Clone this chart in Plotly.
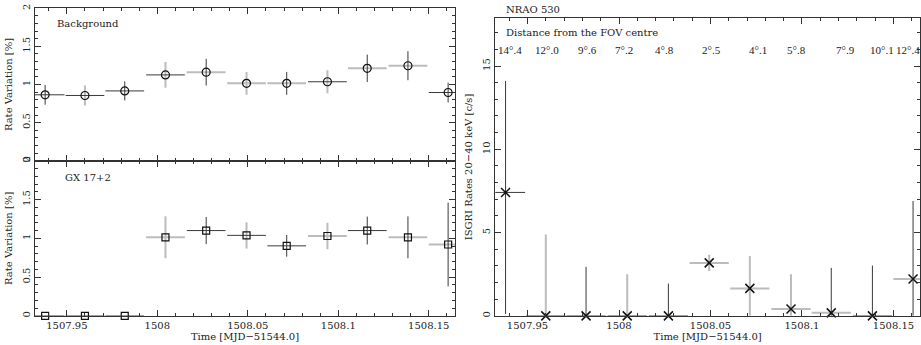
import plotly.graph_objects as go

# ---------------- data ----------------
TIME = [1507.938, 1507.960, 1507.982, 1508.0045, 1508.027, 1508.0493,
        1508.0715, 1508.094, 1508.116, 1508.1385, 1508.1607]
BIN_HALF = [0.0107] * 11

BKG = [0.865, 0.856, 0.916, 1.126, 1.161, 1.015, 1.015, 1.036, 1.212, 1.246, 0.895]
BKG_ERR = [0.13, 0.13, 0.125, 0.17, 0.175, 0.15, 0.15, 0.15, 0.18, 0.19, 0.13]

GX = [0.0, 0.0, 0.0, 1.013, 1.10, 1.038, 0.903, 1.03, 1.10, 1.013, 0.92]
GX_ERR = [0.0, 0.0, 0.0, 0.27, 0.175, 0.17, 0.14, 0.17, 0.18, 0.27, 0.54]

NRAO = [7.41, 0.0, 0.0, 0.0, 0.0, 3.18, 1.65, 0.41, 0.18, 0.0, 2.21]
NRAO_ERR_PLUS = [6.7, 4.88, 2.94, 2.5, 1.94, 0.49, 1.95, 2.09, 2.70, 3.02, 4.69]
NRAO_ERR_MINUS = [7.3, 0.0, 0.0, 0.0, 0.0, 0.49, 1.65, 0.41, 0.18, 0.0, 2.21]

DIST_LABELS = ["14°.4", "12°.0", "9°.6", "7°.2", "4°.8", "2°.5",
               "4°.1", "5°.8", "7°.9", "10°.1", "12°.4"]
DIST_X = [1507.9405, 1507.9607, 1507.9826, 1508.0027, 1508.0247, 1508.0504,
          1508.0760, 1508.0970, 1508.1236, 1508.1439, 1508.1603]

X_TICKS = [1507.95, 1508.0, 1508.05, 1508.1, 1508.15]
X_TICK_TEXT = ["1507.95", "1508", "1508.05", "1508.1", "1508.15"]

# rendering style flags (1 = dark thin line, 0 = light thick line)
BKG_V_DARK = [1, 0, 1, 0, 1, 0, 1, 0, 1, 1, 1]
BKG_H_DARK = [1, 1, 1, 1, 0, 0, 0, 1, 0, 0, 1]
GX_V_DARK = [1, 1, 1, 0, 1, 0, 1, 0, 1, 1, 1]
GX_H_DARK = [1, 1, 1, 0, 1, 1, 1, 0, 1, 0, 0]
NR_V_DARK = [1, 0, 1, 0, 1, 0, 0, 0, 1, 1, 1]
NR_H_DARK = [1, 1, 1, 1, 1, 0, 0, 0, 0, 1, 0]

FONT = "DejaVu Serif"
LABEL_FONT = "Liberation Serif"
DARK = "#3a3a3a"
LIGHT = "#bcbcbc"

fig = go.Figure()


def add_bars(xa, ya, yaxis, x, y, xerr, yplus, yminus, vflags, hflags):
    for dark in (0, 1):
        col = DARK if dark else LIGHT
        th = 1 if dark else 2
        iv = [i for i in range(len(x)) if vflags[i] == dark]
        if iv:
            fig.add_trace(go.Scatter(
                x=[x[i] for i in iv], y=[y[i] for i in iv], mode="markers",
                marker=dict(size=1, color="rgba(0,0,0,0)"),
                error_y=dict(type="data", symmetric=False,
                             array=[yplus[i] for i in iv],
                             arrayminus=[yminus[i] for i in iv],
                             color=col, thickness=th, width=0),
                xaxis=xa, yaxis=yaxis, showlegend=False, hoverinfo="skip"))
        ih = [i for i in range(len(x)) if hflags[i] == dark]
        if ih:
            fig.add_trace(go.Scatter(
                x=[x[i] for i in ih], y=[y[i] for i in ih], mode="markers",
                marker=dict(size=1, color="rgba(0,0,0,0)"),
                error_x=dict(type="data", array=[xerr[i] for i in ih],
                             color=col, thickness=th, width=0),
                xaxis=xa, yaxis=yaxis, showlegend=False, hoverinfo="skip"))


# background (top-left)
add_bars("x", "y", "y", TIME, BKG, BIN_HALF, BKG_ERR, BKG_ERR, BKG_V_DARK, BKG_H_DARK)
fig.add_trace(go.Scatter(x=TIME, y=BKG, mode="markers",
                         marker=dict(symbol="circle-open", size=8, color="#111",
                                     line=dict(width=1.2)),
                         xaxis="x", yaxis="y", showlegend=False))
# GX 17+2 (bottom-left)
add_bars("x2", "y2", "y2", TIME, GX, BIN_HALF, GX_ERR, GX_ERR, GX_V_DARK, GX_H_DARK)
fig.add_trace(go.Scatter(x=TIME, y=GX, mode="markers",
                         marker=dict(symbol="square-open", size=7, color="#111",
                                     line=dict(width=1.2)),
                         xaxis="x2", yaxis="y2", showlegend=False, cliponaxis=False))
# NRAO 530 (right)
add_bars("x3", "y3", "y3", TIME, NRAO, BIN_HALF, NRAO_ERR_PLUS, NRAO_ERR_MINUS,
         NR_V_DARK, NR_H_DARK)
fig.add_trace(go.Scatter(x=TIME, y=NRAO, mode="markers",
                         marker=dict(symbol="x-thin-open", size=9, color="#111",
                                     line=dict(width=1.5, color="#111")),
                         xaxis="x3", yaxis="y3", showlegend=False, cliponaxis=False))

XR = [1507.9324, 1508.1645]
W, H = 921, 345

axis_common = dict(showline=True, linecolor="#333", linewidth=1, mirror="allticks",
                   ticks="inside", ticklen=6, tickcolor="#333", tickwidth=1,
                   showgrid=False, zeroline=False,
                   tickfont=dict(family=FONT, size=10, color="#222"))

xminor = dict(ticks="inside", dtick=0.01, ticklen=3, tickcolor="#333", showgrid=False)

fig.update_layout(
    width=W, height=H, margin=dict(l=0, r=0, t=0, b=0),
    paper_bgcolor="white", plot_bgcolor="white",
    font=dict(family=FONT, size=10, color="#222"),
    xaxis=dict(domain=[35 / W, 455 / W], range=XR, anchor="y",
               tickvals=X_TICKS, showticklabels=False, minor=xminor, **axis_common),
    yaxis=dict(domain=[1 - 159 / H, 1 - 3.3 / H], range=[0, 2], anchor="x",
               tickvals=[0, 0.5, 1, 1.5, 2], ticktext=["0", "0.5", "1", "1.5", "2"],
               tickangle=-90, minor=dict(ticks="inside", dtick=0.1, ticklen=3,
                                        tickcolor="#333"),
               title=dict(text="Rate Variation [%]", standoff=6,
                          font=dict(family=FONT, size=10)),
               **axis_common),
    xaxis2=dict(domain=[35 / W, 455 / W], range=XR, anchor="y2",
                tickvals=X_TICKS, ticktext=X_TICK_TEXT, minor=xminor,
                title=dict(text="Time [MJD−51544.0]", standoff=2,
                           font=dict(family=FONT, size=10)),
                **axis_common),
    yaxis2=dict(domain=[1 - 317.3 / H, 1 - 159 / H], range=[0, 2], anchor="x2",
                tickvals=[0, 0.5, 1, 1.5, 2], ticktext=["0", "0.5", "1", "1.5", "2"],
                tickangle=-90, minor=dict(ticks="inside", dtick=0.1, ticklen=3,
                                         tickcolor="#333"),
                title=dict(text="Rate Variation [%]", standoff=6,
                           font=dict(family=FONT, size=10)),
                **axis_common),
    xaxis3=dict(domain=[495.3 / W, 920 / W], range=XR, anchor="y3",
                tickvals=X_TICKS, ticktext=X_TICK_TEXT, minor=xminor,
                title=dict(text="Time [MJD−51544.0]", standoff=2,
                           font=dict(family=FONT, size=10)),
                **axis_common),
    yaxis3=dict(domain=[1 - 317.3 / H, 1 - 13.3 / H], range=[0, 17.88], anchor="x3",
                tickvals=[0, 5, 10, 15], ticktext=["0", "5", "10", "15"],
                tickangle=-90, minor=dict(ticks="inside", dtick=1, ticklen=3,
                                         tickcolor="#333"),
                title=dict(text="ISGRI Rates 20−40 keV [c/s]", standoff=6,
                           font=dict(family=FONT, size=10)),
                **axis_common),
)

ann = [
    dict(text="Background", x=55 / W, y=1 - 19 / H, xref="paper", yref="paper",
         xanchor="left", yanchor="middle", showarrow=False),
    dict(text="GX 17+2", x=63 / W, y=1 - 176 / H, xref="paper", yref="paper",
         xanchor="left", yanchor="middle", showarrow=False),
    dict(text="NRAO 530", x=504 / W, y=1 - 5 / H, xref="paper", yref="paper",
         xanchor="left", yanchor="middle", showarrow=False),
    dict(text="Distance from the FOV centre", x=504 / W, y=1 - 28.5 / H,
         xref="paper", yref="paper", xanchor="left", yanchor="middle",
         showarrow=False),
]
for i, (lab, xv) in enumerate(zip(DIST_LABELS, DIST_X)):
    ann.append(dict(text=lab, x=xv, y=1 - 46 / H, xref="x3", yref="paper",
                    xanchor="right" if i == len(DIST_LABELS) - 1 else "center",
                    xshift=10 if i == len(DIST_LABELS) - 1 else 0,
                    yanchor="middle", showarrow=False,
                    font=dict(family=LABEL_FONT, size=11, color="#222")))
fig.update_layout(annotations=ann)

fig.write_html(
    "out.html",
    config={"displayModeBar": False},
    post_script="document.body.style.margin='0';document.body.style.padding='0';"
                "document.body.style.overflow='hidden';",
)
